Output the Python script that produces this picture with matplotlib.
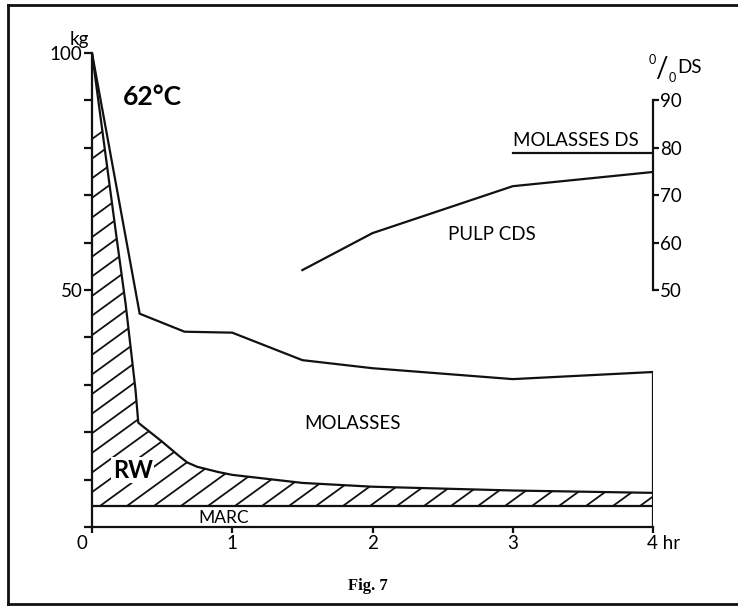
import matplotlib.pyplot as plt
from matplotlib.lines import Line2D
from matplotlib.transforms import ScaledTranslation
import numpy as np

plt.rcParams['font.family'] = ['Lato', 'DejaVu Sans']

# kg curves vs time (hr)
mol_time = [0, 0.34, 0.66, 1.0, 1.5, 2.0, 3.0, 4.0]
mol_top = [100, 45, 41.2, 41, 35.2, 33.5, 31.2, 32.7]

rw_time = [0, 0.09, 0.18, 0.24, 0.31, 0.33, 0.5, 0.62, 0.68, 0.75, 0.9, 1.0, 1.5, 2.0, 3.0, 4.0]
rw_top = [100, 80, 60, 47, 29, 22, 18, 15, 13.6, 12.7, 11.6, 11, 9.3, 8.5, 7.7, 7.2]

marc_level = 4.4

# % DS curves (right scale)
pulp_time = [1.5, 2.0, 3.0, 4.0]
pulp_cds = [54.2, 62.0, 71.9, 74.9]
mol_ds_time = [3.0, 4.0]
mol_ds = [79, 79]

W, H = 738, 608
fig = plt.figure(figsize=(W / 100, H / 100), dpi=100)
ax = fig.add_axes([92 / W, (H - 527) / H, (653 - 92) / W, (527 - 53) / H])
ax.set_xlim(0, 4)
ax.set_ylim(0, 100)

lw = 1.6
ink = '#111111'
fs = 13.5

# molasses outline, closed at 4 hr
ax.plot(mol_time + [4, 4], mol_top + [mol_top[-1], 0], color=ink, lw=lw, solid_joinstyle='miter')
# RW boundary
ax.plot(rw_time, rw_top, color=ink, lw=lw)
# marc line
ax.plot([0, 4], [marc_level, marc_level], color=ink, lw=lw)

# hatched RW region
poly = ax.fill_between(rw_time, marc_level, rw_top, facecolor='none', edgecolor='none')
clip = poly.get_paths()[0]
ang = np.tan(np.radians(36))
sx = 27 / (653 - 92)  # spacing in axes fraction
slope = ang * (653 - 92) / (527 - 53)
for x0 in np.arange(-1.0, 1.2, sx):
    ln = Line2D([x0, x0 + 1], [0, slope], transform=ax.transAxes, color=ink, lw=1.3)
    ax.add_line(ln)
    ln.set_clip_path(clip, ax.transData)

# pulp cds and molasses ds
ax.plot(pulp_time, pulp_cds, color=ink, lw=lw)
ax.plot(mol_ds_time, mol_ds, color=ink, lw=lw)

# axes styling
for s in ['top', 'right']:
    ax.spines[s].set_visible(False)
ax.spines['left'].set_bounds(0, 100)
ax.spines['bottom'].set_bounds(0, 4)
for s in ['left', 'bottom']:
    ax.spines[s].set_linewidth(lw)
    ax.spines[s].set_color(ink)

ax.set_yticks(range(0, 101, 10))
ax.set_yticklabels(['50' if v == 50 else '100' if v == 100 else '' for v in range(0, 101, 10)])
ax.set_xticks([0, 1, 2, 3, 4])
ax.set_xticklabels(['0', '1', '2', '3', '4 hr'])
ax.tick_params(axis='y', length=6, width=lw, pad=1, labelsize=fs, color=ink)
ax.tick_params(axis='x', length=4, width=lw, pad=2, labelsize=fs, color=ink)
xl = ax.get_xticklabels()
xl[0].set_transform(xl[0].get_transform() + ScaledTranslation(-7 / 72, 0, fig.dpi_scale_trans))
xl[-1].set_horizontalalignment('left')
xl[-1].set_transform(xl[-1].get_transform() + ScaledTranslation(-4 / 72, 0, fig.dpi_scale_trans))

ax2 = ax.twinx()
ax2.set_ylim(0, 100)
for s in ['top', 'left', 'bottom']:
    ax2.spines[s].set_visible(False)
ax2.spines['right'].set_bounds(50, 90)
ax2.spines['right'].set_linewidth(lw)
ax2.spines['right'].set_color(ink)
ax2.set_yticks([50, 60, 70, 80, 90])
ax2.tick_params(axis='y', length=4, width=lw, pad=1, labelsize=fs, color=ink)

# texts
ax.text(-0.09, 102.9, 'kg', ha='center', va='center', fontsize=fs, clip_on=False)
ax.text(0.22, 90.7, '62°C', ha='left', va='center', fontsize=19, fontweight='bold')
# "0/0 DS" unit label built from pieces
ax.text(3.993, 98.5, '0', ha='center', va='center', fontsize=9, clip_on=False)
ax.text(4.057, 96.6, '/', ha='center', va='center', fontsize=20, clip_on=False)
ax.text(4.139, 94.7, '0', ha='center', va='center', fontsize=9, clip_on=False)
ax.text(4.171, 97.0, 'DS', ha='left', va='center', fontsize=fs, clip_on=False)
ax.text(3.0, 81.6, 'MOLASSES DS', ha='left', va='center', fontsize=fs)
ax.text(2.54, 61.8, 'PULP CDS', ha='left', va='center', fontsize=fs)
ax.text(1.86, 21.9, 'MOLASSES', ha='center', va='center', fontsize=fs)
ax.text(0.29, 12, 'RW', ha='center', va='center', fontsize=17, fontweight='bold',
        bbox=dict(facecolor='white', edgecolor='none', pad=1))
ax.text(0.94, 1.9, 'MARC', ha='center', va='center', fontsize=12.5)

fig.text(368 / W, 1 - 586 / H, 'Fig. 7', ha='center', va='center', fontsize=12,
         fontweight='bold', family=['Liberation Serif', 'DejaVu Serif'])

# page frame
frame = dict(color=ink, lw=2, transform=fig.transFigure)
fig.add_artist(Line2D([8 / W, 8 / W], [1 - 5 / H, 1 - 604 / H], **frame))
fig.add_artist(Line2D([8 / W, 1], [1 - 5 / H, 1 - 5 / H], **frame))
fig.add_artist(Line2D([8 / W, 1], [1 - 604 / H, 1 - 604 / H], **frame))

fig.savefig('out.png', dpi=100)
